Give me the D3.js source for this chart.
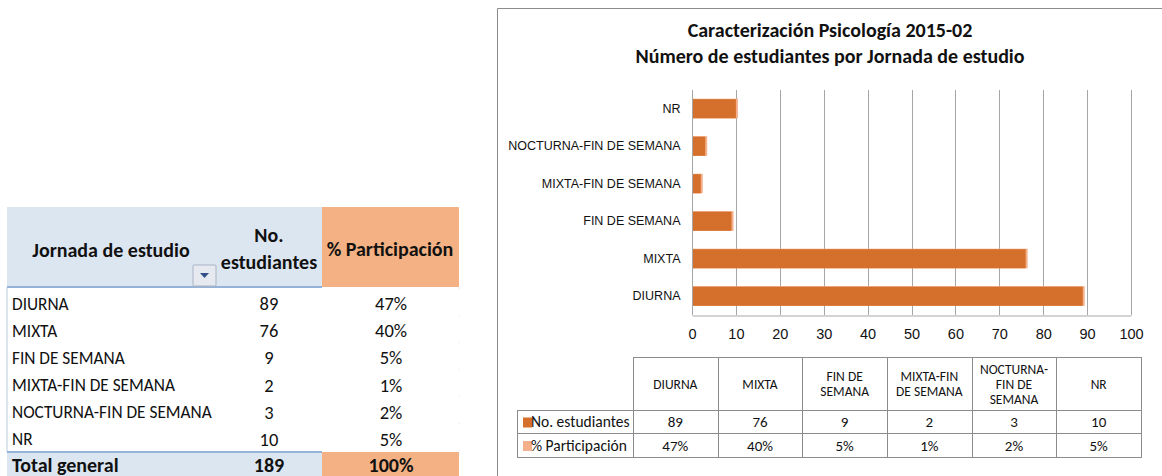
<!DOCTYPE html>
<html>
<head>
<meta charset="utf-8">
<script src="https://d3js.org/d3.v7.min.js"></script>
<style>
  body { margin: 0; background: #fff; }
  svg { display: block; font-family: Calibri, Carlito, "Liberation Sans", Arial, sans-serif; }
</style>
</head>
<body>
<div id="chart"></div>
<script>
// data
const categories = ["DIURNA", "MIXTA", "FIN DE SEMANA", "MIXTA-FIN DE SEMANA", "NOCTURNA-FIN DE SEMANA", "NR"];
const estudiantes = [89, 76, 9, 2, 3, 10];
const participacion = [47, 40, 5, 1, 2, 5]; // percent
const headerLines = [["DIURNA"], ["MIXTA"], ["FIN DE", "SEMANA"], ["MIXTA-FIN", "DE SEMANA"], ["NOCTURNA-", "FIN DE", "SEMANA"], ["NR"]];
const xTicks = [0, 10, 20, 30, 40, 50, 60, 70, 80, 90, 100];
const seriesNames = ["No. estudiantes", "% Participación"];
const totalEstudiantes = 189;
const totalPct = 100;
const titleLines = ["Caracterización Psicología 2015-02", "Número de estudiantes por Jornada de estudio"];

const W = 1162, H = 476;
const darkOrange = "#D4702C", lightOrange = "#F4B08A";
const headBlue = "#DCE6F1", headOrange = "#F4B183";
const pct = d => d + "%";

const svg = d3.select("#chart").append("svg")
    .attr("width", W).attr("height", H);
svg.append("rect").attr("width", W).attr("height", H).attr("fill", "#fff");

// ---------- left pivot table ----------
const left = svg.append("g");
const rowY = d3.scaleBand().domain(categories).range([290, 453]);
const colNum = 269, colPct = 391;

left.append("rect").attr("x", 7).attr("y", 207).attr("width", 315).attr("height", 80).attr("fill", headBlue);
left.append("rect").attr("x", 322).attr("y", 207).attr("width", 137).attr("height", 80).attr("fill", headOrange);
left.append("line").attr("x1", 7).attr("x2", 322).attr("y1", 287).attr("y2", 287)
    .attr("stroke", "#95B3D7").attr("stroke-width", 2);
left.append("line").attr("x1", 7).attr("x2", 7).attr("y1", 287).attr("y2", 452)
    .attr("stroke", "#B8C8DC");
left.append("line").attr("x1", 459).attr("x2", 459).attr("y1", 207).attr("y2", 452)
    .attr("stroke", "#E4E4E4").attr("stroke-dasharray", "1,26");

left.append("text").attr("x", 111).attr("y", 257).attr("text-anchor", "middle")
    .attr("font-size", 20).attr("font-weight", "bold").attr("fill", "#111").text("Jornada de estudio");
left.append("text").attr("x", colNum).attr("y", 242).attr("text-anchor", "middle")
    .attr("font-size", 20).attr("font-weight", "bold").attr("fill", "#111").text("No.");
left.append("text").attr("x", colNum).attr("y", 269).attr("text-anchor", "middle")
    .attr("font-size", 20).attr("font-weight", "bold").attr("fill", "#111").text("estudiantes");
left.append("text").attr("x", 390).attr("y", 256).attr("text-anchor", "middle")
    .attr("font-size", 20).attr("font-weight", "bold").attr("fill", "#111").text("% Participación");

// filter dropdown button
const btn = left.append("g");
btn.append("rect").attr("x", 193).attr("y", 265).attr("width", 23).attr("height", 21)
    .attr("fill", "#E6EAF0").attr("stroke", "#A9B4C4").attr("rx", 1);
btn.append("path").attr("d", "M200,273 L209,273 L204.5,278 Z").attr("fill", "#34508A");

const rows = left.selectAll("g.row").data(categories).join("g").attr("class", "row");
rows.append("text").attr("x", 12).attr("y", d => rowY(d) + rowY.bandwidth() / 2 + 6)
    .attr("font-size", 17.3).attr("fill", "#111").text(d => d);
rows.append("text").attr("x", colNum).attr("y", d => rowY(d) + rowY.bandwidth() / 2 + 6.5)
    .attr("text-anchor", "middle").attr("font-size", 18.5).attr("fill", "#111")
    .text((d, i) => estudiantes[i]);
rows.append("text").attr("x", colPct).attr("y", d => rowY(d) + rowY.bandwidth() / 2 + 6.5)
    .attr("text-anchor", "middle").attr("font-size", 18.5).attr("fill", "#111")
    .text((d, i) => pct(participacion[i]));

// total row
left.append("rect").attr("x", 7).attr("y", 452).attr("width", 315).attr("height", 30).attr("fill", headBlue);
left.append("rect").attr("x", 322).attr("y", 452).attr("width", 137).attr("height", 30).attr("fill", headOrange);
left.append("line").attr("x1", 7).attr("x2", 322).attr("y1", 452).attr("y2", 452)
    .attr("stroke", "#95B3D7").attr("stroke-width", 2);
left.append("text").attr("x", 12).attr("y", 472).attr("font-size", 20).attr("font-weight", "bold")
    .attr("fill", "#111").text("Total general");
left.append("text").attr("x", colNum).attr("y", 472).attr("text-anchor", "middle").attr("font-size", 20)
    .attr("font-weight", "bold").attr("fill", "#111").text(totalEstudiantes);
left.append("text").attr("x", colPct).attr("y", 472).attr("text-anchor", "middle").attr("font-size", 20)
    .attr("font-weight", "bold").attr("fill", "#111").text(pct(totalPct));

// ---------- chart ----------
const chart = svg.append("g");
chart.append("path").attr("d", `M497.5,${H} L497.5,8.5 L${W},8.5`)
    .attr("fill", "none").attr("stroke", "#8C8C8C");

chart.selectAll("text.title").data(titleLines).join("text").attr("class", "title")
    .attr("x", 830).attr("y", (d, i) => 37 + i * 26).attr("text-anchor", "middle")
    .attr("font-size", 20).attr("font-weight", "bold").attr("fill", "#111").text(d => d);

const x = d3.scaleLinear().domain([0, 100]).range([692, 1131]);
const y = d3.scaleBand().domain(categories.slice().reverse()).range([90, 315])
    .paddingInner(0.49).paddingOuter(0.245);

// gridlines
chart.append("g").selectAll("line").data(xTicks).join("line")
    .attr("x1", d => Math.round(x(d)) + 0.5).attr("x2", d => Math.round(x(d)) + 0.5)
    .attr("y1", 90).attr("y2", 315).attr("stroke", "#A6A6A6");

// bars: participation series (tiny, drawn behind), then students
chart.append("g").selectAll("rect").data(categories).join("rect")
    .attr("x", x(0)).attr("y", d => y(d))
    .attr("width", (d, i) => x(participacion[i] / 100) - x(0)).attr("height", y.bandwidth())
    .attr("fill", lightOrange);
chart.append("g").selectAll("rect").data(categories).join("rect")
    .attr("x", x(0)).attr("y", d => y(d) - 0.5)
    .attr("width", (d, i) => x(estudiantes[i]) - x(0) + 2).attr("height", y.bandwidth() + 0.5)
    .attr("fill", lightOrange);
chart.append("g").selectAll("rect").data(categories).join("rect")
    .attr("x", x(0)).attr("y", d => y(d))
    .attr("width", (d, i) => x(estudiantes[i]) - x(0)).attr("height", y.bandwidth())
    .attr("fill", darkOrange);

// axes
const xAxis = chart.append("g").attr("transform", "translate(0,315.5)")
    .call(d3.axisBottom(x).tickValues(xTicks).tickSize(0).tickPadding(13));
xAxis.select(".domain").attr("stroke", "#A6A6A6");
xAxis.selectAll("text").attr("font-size", 14.5).attr("fill", "#111").attr("font-family", null);

const yAxis = chart.append("g").attr("transform", "translate(692.5,0)")
    .call(d3.axisLeft(y).tickSize(0).tickPadding(12));
yAxis.select(".domain").attr("stroke", "#A6A6A6").attr("d", "M0,90V315");
yAxis.selectAll("text").attr("font-size", 12.5).attr("fill", "#111").attr("font-family", null);

// ---------- data table ----------
const tbl = chart.append("g");
const colX = d3.scaleBand().domain(categories).range([633, 1141]);
const tTop = 357, tHead = 410, tRow1 = 433, tBot = 457;
const stroke = "#8C8C8C";

// outer/grid lines
tbl.append("rect").attr("x", 633.5).attr("y", tTop + 0.5).attr("width", 508).attr("height", tBot - tTop)
    .attr("fill", "none").attr("stroke", stroke);
tbl.append("rect").attr("x", 517.5).attr("y", tHead + 0.5).attr("width", 116).attr("height", tBot - tHead)
    .attr("fill", "none").attr("stroke", stroke);
tbl.selectAll("line.v").data(categories.slice(1)).join("line").attr("class", "v")
    .attr("x1", d => Math.round(colX(d)) + 0.5).attr("x2", d => Math.round(colX(d)) + 0.5)
    .attr("y1", tTop).attr("y2", tBot).attr("stroke", stroke);
[tHead, tRow1].forEach(yy => tbl.append("line").attr("x1", 517).attr("x2", 1141)
    .attr("y1", yy + 0.5).attr("y2", yy + 0.5).attr("stroke", stroke));

// header cells
const hc = tbl.selectAll("text.h").data(categories).join("text").attr("class", "h")
    .attr("text-anchor", "middle").attr("font-size", 13.5).attr("fill", "#111");
hc.each(function (d, i) {
    const lines = headerLines[i];
    const cy = (tTop + tHead) / 2 + 5 - (lines.length - 1) * 7.5;
    d3.select(this).selectAll("tspan").data(lines).join("tspan")
        .attr("x", colX(d) + colX.bandwidth() / 2).attr("y", (l, j) => cy + j * 15).text(l => l);
});

// value rows
const rowsData = [estudiantes.map(String), participacion.map(pct)];
const rowMid = [(tHead + tRow1) / 2, (tRow1 + tBot) / 2];
rowsData.forEach((vals, r) => {
    tbl.selectAll(null).data(categories).join("text")
        .attr("x", d => colX(d) + colX.bandwidth() / 2).attr("y", rowMid[r] + 5.5)
        .attr("text-anchor", "middle").attr("font-size", 15).attr("fill", "#111")
        .text((d, i) => vals[i]);
    tbl.append("rect").attr("x", 523).attr("y", rowMid[r] - 4).attr("width", 9).attr("height", 10)
        .attr("fill", r === 0 ? darkOrange : lightOrange);
    tbl.append("text").attr("x", 531).attr("y", rowMid[r] + 5.5).attr("font-size", 15.5)
        .attr("fill", "#111").text(seriesNames[r]);
});
</script>
</body>
</html>
